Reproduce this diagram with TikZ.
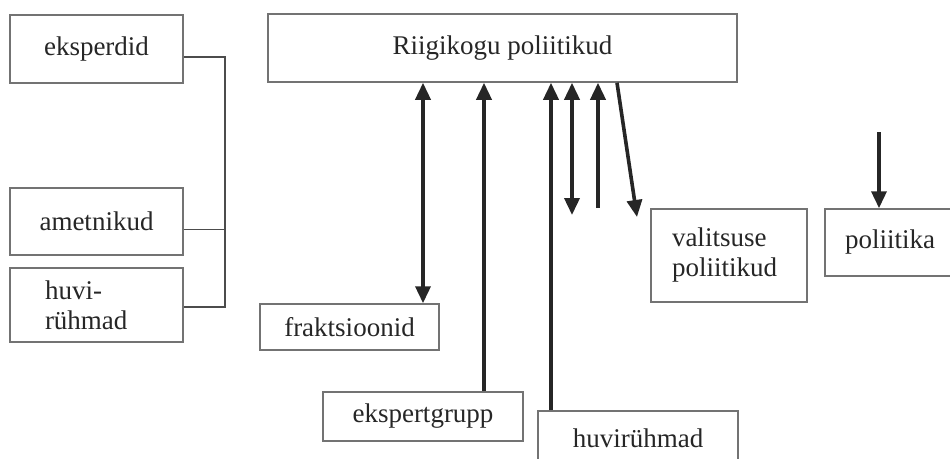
\documentclass[tikz,border=0pt]{standalone}
\usepackage{fontspec}
\setmainfont{Liberation Serif}
\usetikzlibrary{arrows.meta,calc}
\begin{document}
\begin{tikzpicture}[x=1pt,y=-1pt,
    box/.style={draw=black!55,line width=1.5pt,inner sep=0pt,text=black!85,
        font=\fontsize{27}{30}\selectfont},
    arr/.style={line width=3.6pt,draw=black!85,-{Triangle[length=17pt,width=15pt]}},
    darr/.style={arr,{Triangle[length=17pt,width=15pt]}-{Triangle[length=17pt,width=15pt]}},
    link/.style={draw=black!70,line width=1.8pt}]
    \useasboundingbox (0,0) rectangle (950,458);
	    % left column
	    \node[box,minimum width=173pt,minimum height=68pt] (ek) at (96.5,49) {eksperdid};
	    \node[box,minimum width=173pt,minimum height=67pt] (am) at (96.5,221.5) {ametnikud};
	    \node[box,text width=103pt,inner xsep=35pt,minimum height=74pt,align=left] (hv) at (96.5,305) {huvi-\\rühmad};
	    \draw[link] ([yshift=-8pt]ek.east) -- ++(41,0) |- ([yshift=-2pt]hv.east);
	    \draw[link] ([yshift=-8pt]am.east) -- ++(41,0);
	    
	    % main boxes
	    \node[box,minimum width=469pt,minimum height=68pt] (rk) at (502.5,48) {Riigikogu poliitikud};
	    \node[box,minimum width=179pt,minimum height=46pt] (fr) at (349.5,327) {fraktsioonid};
	    \node[box,minimum width=200pt,minimum height=49pt] (eg) at (423,416.5) {ekspertgrupp};
	    \node[box,minimum width=200pt,minimum height=54pt] (hr) at (638,438) {huvirühmad};
	    \node[box,text width=114pt,inner xsep=21pt,minimum height=93pt,align=left] (vp) at (729,255.5) {valitsuse\\poliitikud};
	    \node[box,minimum width=130pt,minimum height=67pt] (po) at (890,242.5) {poliitika};
	    
	    % arrows
	    \coordinate (a1) at (423,0);
	    \coordinate (a2) at (484,0);
	    \coordinate (a3) at (551,0);
	    \coordinate (a4) at (572,215);
	    \coordinate (a5) at (598,208);
	    \coordinate (a6) at (617,0);
	    \coordinate (a6e) at (637,217);
	    \coordinate (a7) at (879,132);
	    \draw[darr] (rk.south -| a1) -- (fr.north -| a1);
	    \draw[arr] (eg.north -| a2) -- (rk.south -| a2);
	    \draw[arr] (hr.north -| a3) -- (rk.south -| a3);
	    \draw[darr] (rk.south -| a4) -- (a4);
	    \draw[arr] (a5) -- (rk.south -| a5);
	    \draw[arr] (rk.south -| a6) -- (a6e);
	    \draw[arr] (a7) -- (po.north -| a7);
\end{tikzpicture}
\end{document}
